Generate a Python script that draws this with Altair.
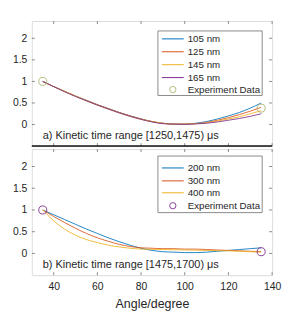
import altair as alt
import pandas as pd

FONT = "Liberation Sans"

# ---------------- data ----------------
angles = [35, 40, 45, 50, 55, 60, 65, 70, 75, 80, 85, 90, 95, 100, 105, 110, 115, 120, 125, 130, 135]

top_series = ["105 nm", "125 nm", "145 nm", "165 nm"]
top_105 = [1.00, 0.88, 0.77, 0.66, 0.56, 0.46, 0.37, 0.28, 0.20, 0.13, 0.07, 0.03, 0.01, 0.01, 0.03, 0.07, 0.13, 0.20, 0.28, 0.38, 0.50]
top_125 = [1.00, 0.88, 0.77, 0.66, 0.56, 0.46, 0.37, 0.28, 0.20, 0.13, 0.07, 0.03, 0.01, 0.01, 0.02, 0.05, 0.10, 0.16, 0.23, 0.31, 0.40]
top_145 = [1.00, 0.88, 0.77, 0.66, 0.55, 0.45, 0.36, 0.27, 0.19, 0.12, 0.07, 0.03, 0.01, 0.01, 0.02, 0.04, 0.08, 0.13, 0.18, 0.25, 0.32]
top_165 = [1.00, 0.88, 0.76, 0.65, 0.55, 0.45, 0.36, 0.27, 0.19, 0.12, 0.06, 0.02, 0.01, 0.005, 0.015, 0.03, 0.06, 0.10, 0.14, 0.19, 0.25]
top_exp_x = [35, 135]
top_exp_y = [1.0, 0.38]

bot_series = ["200 nm", "300 nm", "400 nm"]
bot_200 = [1.00, 0.89, 0.78, 0.67, 0.56, 0.46, 0.36, 0.27, 0.19, 0.12, 0.07, 0.04, 0.03, 0.02, 0.02, 0.03, 0.05, 0.07, 0.09, 0.11, 0.13]
bot_300 = [1.00, 0.85, 0.71, 0.58, 0.46, 0.36, 0.28, 0.21, 0.16, 0.13, 0.12, 0.11, 0.11, 0.10, 0.10, 0.09, 0.08, 0.07, 0.06, 0.05, 0.04]
bot_400 = [1.00, 0.75, 0.56, 0.42, 0.32, 0.25, 0.19, 0.15, 0.12, 0.10, 0.095, 0.09, 0.085, 0.08, 0.075, 0.07, 0.065, 0.06, 0.05, 0.04, 0.03]
bot_exp_x = [35, 135]
bot_exp_y = [1.0, 0.04]

x_ticks = [40, 60, 80, 100, 120, 140]
y_ticks = [0, 0.5, 1, 1.5, 2]
X_DOMAIN = [30, 140]
Y_DOMAIN = [-0.5, 2.4]

colors = ["#0072BD", "#D95319", "#EDB120", "#7E2F8E"]

W = 242
H_TOP = 126
H_BOT = 127
FRAME = "#8a8a8a"


def long_df(series, arrays):
    rows = []
    for name, arr in zip(series, arrays):
        for a, v in zip(angles, arr):
            rows.append({"angle": a, "value": v, "series": name})
    return pd.DataFrame(rows)


def panel(series, arrays, exp_x, exp_y, exp_color, label, height, legend_rows_y,
          legend_box, show_x_axis):
    xs = alt.Scale(domain=X_DOMAIN, nice=False, zero=False)
    ys = alt.Scale(domain=Y_DOMAIN, nice=False, zero=False)
    if show_x_axis:
        xaxis = alt.Axis(values=x_ticks, tickSize=0, labelPadding=6, grid=False,
                         domain=False, title="Angle/degree", titlePadding=6,
                         labelFlush=False, labelOverlap=False,
                         labelFont=FONT, labelFontSize=10.5, labelColor="#262626",
                         titleFont=FONT, titleFontSize=12.5, titleFontWeight="normal",
                         titleColor="#262626")
    else:
        xaxis = None
    yaxis = alt.Axis(values=y_ticks, tickSize=0, labelPadding=5, grid=False, domain=False,
                     title=None, labelExpr="toString(datum.value)", labelFont=FONT,
                     labelFontSize=10.5, labelFlush=False, labelOverlap=False,
                     labelColor="#262626", minExtent=23, maxExtent=23)

    def X(f):
        return alt.X(f, scale=xs, axis=xaxis, title="Angle/degree" if show_x_axis else None)

    def Y(f):
        return alt.Y(f, scale=ys, axis=yaxis, title=None)

    df = long_df(series, arrays)
    lines = alt.Chart(df).mark_line(interpolate="monotone", strokeWidth=1, opacity=0.85).encode(
        x=X("angle:Q"),
        y=Y("value:Q"),
        color=alt.Color("series:N", scale=alt.Scale(domain=series, range=colors[:len(series)]),
                        legend=None),
    )
    exp = alt.Chart(pd.DataFrame({"angle": exp_x, "value": exp_y})).mark_point(
        shape="circle", filled=False, size=65, strokeWidth=1, color=exp_color, opacity=0.9
    ).encode(x=X("angle:Q"), y=Y("value:Q"))

    ann = alt.Chart(pd.DataFrame({"angle": [35], "value": [-0.27], "t": [label]})).mark_text(
        align="left", baseline="middle", font=FONT, fontSize=11, color="#262626"
    ).encode(x=X("angle:Q"), y=Y("value:Q"), text="t:N")

    # inward ticks on all four sides
    yt = pd.DataFrame({"angle": x_ticks[:5], "value": y_ticks})
    xt = pd.DataFrame({"angle": x_ticks})
    tl = alt.Chart(yt).mark_rule(color=FRAME, strokeWidth=1).encode(
        y=Y("value:Q"), x=alt.value(0), x2=alt.value(3))
    tr = alt.Chart(yt).mark_rule(color=FRAME, strokeWidth=1).encode(
        y=Y("value:Q"), x=alt.value(W - 3), x2=alt.value(W))
    tb = alt.Chart(xt).mark_rule(color=FRAME, strokeWidth=1).encode(
        x=X("angle:Q"), y=alt.value(height - 3), y2=alt.value(height))
    ttop = alt.Chart(xt).mark_rule(color=FRAME, strokeWidth=1).encode(
        x=X("angle:Q"), y=alt.value(0), y2=alt.value(3))

    one = pd.DataFrame({"a": [0]})
    bx0, by0, bx1, by1 = legend_box
    box = alt.Chart(one).mark_rect(fill="white", stroke="#8a8a8a", strokeWidth=1).encode(
        x=alt.value(bx0), x2=alt.value(bx1), y=alt.value(by0), y2=alt.value(by1))
    layers = [lines, exp, ann, tl, tr, tb, ttop, box]
    lx0, lx1, tx = bx0 + 4, bx0 + 26, bx0 + 30
    entries = list(series) + ["Experiment Data"]
    for i, name in enumerate(entries):
        yy = legend_rows_y[i]
        if i < len(series):
            layers.append(alt.Chart(one).mark_rule(color=colors[i], strokeWidth=1).encode(
                x=alt.value(lx0), x2=alt.value(lx1), y=alt.value(yy)))
        else:
            layers.append(alt.Chart(one).mark_point(
                shape="circle", filled=False, size=40, strokeWidth=1, color=exp_color,
                opacity=0.9).encode(x=alt.value((lx0 + lx1) / 2), y=alt.value(yy)))
        layers.append(alt.Chart(pd.DataFrame({"t": [name]})).mark_text(
            align="left", baseline="middle", font=FONT, fontSize=9.8, color="#262626"
        ).encode(x=alt.value(tx), y=alt.value(yy), text="t:N"))
    return alt.layer(*layers).properties(width=W, height=height)


top = panel(top_series, [top_105, top_125, top_145, top_165], top_exp_x, top_exp_y,
            "#A9B46E", "a) Kinetic time range [1250,1475) \u03bcs", H_TOP,
            [18, 31, 44, 57, 69], (127, 10, 232, 75), False)
sep = alt.Chart(pd.DataFrame({"a": [0]})).mark_rule(color="#111111", strokeWidth=1.5).encode(
    x=alt.value(0), x2=alt.value(W), y=alt.value(H_TOP))
top = alt.layer(top, sep)

bot = panel(bot_series, [bot_200, bot_300, bot_400], bot_exp_x, bot_exp_y,
            "#7E2F8E", "b) Kinetic time range [1475,1700) \u03bcs", H_BOT,
            [19, 32, 44, 57], (127, 7, 232, 64), True)

chart = alt.vconcat(top, bot, spacing=0).properties(
    padding={"left": 0, "top": 11, "right": 5, "bottom": 5}
).configure_view(stroke=FRAME, strokeWidth=1).configure(background="white")

chart.save("out.html", embed_options={"renderer": "svg", "actions": False})
